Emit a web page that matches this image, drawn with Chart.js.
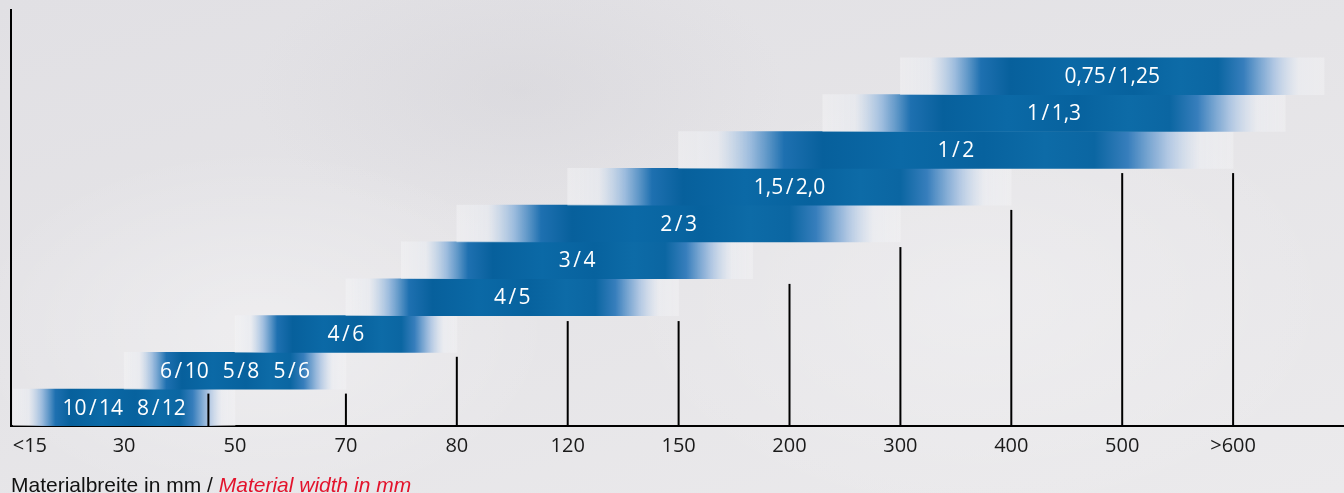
<!DOCTYPE html>
<html>
<head>
<meta charset="utf-8">
<script src="https://cdn.jsdelivr.net/npm/chart.js@4"></script>
<style>
  html, body { margin: 0; padding: 0; }
  body {
    width: 1344px; height: 493px; overflow: hidden; position: relative;
    background:
      radial-gradient(ellipse 420px 260px at 260px 330px, rgba(255,255,255,0.35), rgba(255,255,255,0) 70%),
      radial-gradient(ellipse 520px 320px at 980px 300px, rgba(255,255,255,0.25), rgba(255,255,255,0) 70%),
      radial-gradient(ellipse 380px 200px at 520px 90px, rgba(205,204,210,0.35), rgba(205,204,210,0) 70%),
      linear-gradient(165deg, #e1e0e4 0%, #e5e4e7 45%, #ebeaec 100%);
  }
  #wrap { position: absolute; left: 0; top: 0; width: 1344px; height: 493px; }
  #caption {
    position: absolute; left: 11px; top: 474px; margin: 0;
    font: 21px/21px "Liberation Sans", Arial, sans-serif; color: #111; white-space: nowrap;
  }
  #caption em { color: #e3132c; font-style: italic; }
</style>
</head>
<body>
<div id="wrap"><canvas id="c" width="1344" height="493"></canvas></div>
<p id="caption">Materialbreite in mm / <em>Material width in mm</em></p>
<script>
// Material width categories (x axis)
const widthLabels = ['<15', '30', '50', '70', '80', '120', '150', '200', '300', '400', '500', '>600'];
// Gauge labels, one per bar (bottom to top)
const gaugeLabels = ['10/14 8/12', '6/10 5/8 5/6', '4/6', '4/5', '3/4', '2/3', '1,5/2,0', '1/2', '1/1,3', '0,75/1,25'];
// Range of each bar along the width-category axis (category index units)
const rangeStart = [0, 1, 2, 3, 3.5, 4, 5, 6, 7.3, 8];
const rangeEnd   = [2, 3, 4, 6, 6.67, 8, 9, 11, 11.47, 11.82];
// Vertical marker lines: position on the width axis and height in rows
const markerAt     = [1.76, 3, 4, 5, 6, 7, 8, 9, 10, 11];
const markerHeight = [0.88, 0.88, 1.88, 2.85, 2.85, 3.86, 4.86, 5.87, 6.87, 6.87];

const barData = gaugeLabels.map((lab, i) => ({ x: [rangeStart[i], rangeEnd[i]], y: i + 0.5 }));

function barGradient(ctx) {
  const fallback = '#0a64a0';
  if (ctx.type !== 'data' || !ctx.raw) return fallback;
  const chart = ctx.chart;
  const xs = chart.scales && chart.scales.x;
  if (!xs) return fallback;
  const x0 = xs.getPixelForValue(ctx.raw.x[0]);
  const x1 = xs.getPixelForValue(ctx.raw.x[1]);
  if (!isFinite(x0) || !isFinite(x1) || x1 <= x0) return fallback;
  const g = chart.ctx.createLinearGradient(x0, 0, x1, 0);
  g.addColorStop(0.00, 'rgba(244,244,246,0.5)');
  g.addColorStop(0.07, 'rgba(232,235,241,0.65)');
  g.addColorStop(0.13, 'rgba(150,184,220,0.95)');
  g.addColorStop(0.19, 'rgba(30,112,176,1)');
  g.addColorStop(0.26, '#07609c');
  g.addColorStop(0.40, '#0b69a6');
  g.addColorStop(0.55, '#07629e');
  g.addColorStop(0.66, '#0d6ba7');
  g.addColorStop(0.75, '#0b66a2');
  g.addColorStop(0.81, 'rgba(55,126,188,1)');
  g.addColorStop(0.88, 'rgba(170,195,225,0.95)');
  g.addColorStop(0.94, 'rgba(236,238,243,0.6)');
  g.addColorStop(1.00, 'rgba(244,244,246,0.45)');
  return g;
}

const markerDatasets = markerAt.map((x, i) => ({
  type: 'line',
  indexAxis: 'x',
  data: [{ x: x, y: 0 }, { x: x, y: markerHeight[i] }],
  borderColor: '#000',
  borderWidth: 2,
  borderCapStyle: 'butt',
  pointRadius: 0,
  fill: false,
  order: 0
}));

// Draws a gauge label: words separated by a gap, slashes given extra room
function labelWidth(ctx, text, slashPad, wordGap) {
  const words = text.split(' ');
  let w = 0;
  words.forEach((word, wi) => {
    for (const ch of word) w += ctx.measureText(ch).width + (ch === '/' ? 2 * slashPad : 0);
    if (wi < words.length - 1) w += wordGap;
  });
  return w;
}
function drawLabel(ctx, text, cx, cy, slashPad, wordGap) {
  const words = text.split(' ');
  let x = cx - labelWidth(ctx, text, slashPad, wordGap) / 2;
  words.forEach((word, wi) => {
    for (const ch of word) {
      if (ch === '/') x += slashPad;
      ctx.fillText(ch, x, cy);
      x += ctx.measureText(ch).width;
      if (ch === '/') x += slashPad;
    }
    if (wi < words.length - 1) x += wordGap;
  });
}

const barLabelPlugin = {
  id: 'barLabels',
  afterDatasetsDraw(chart) {
    const meta = chart.getDatasetMeta(0);
    const ctx = chart.ctx;
    ctx.save();
    ctx.fillStyle = '#ffffff';
    ctx.font = '21px "Open Sans", "Noto Sans", sans-serif';
    ctx.textAlign = 'left';
    ctx.textBaseline = 'middle';
    meta.data.forEach((el, i) => {
      const cx = (el.x + el.base) / 2;
      drawLabel(ctx, gaugeLabels[i], cx, el.y + 1, 2.5, 14);
    });
    ctx.restore();
  }
};

new Chart(document.getElementById('c'), {
  type: 'bar',
  data: {
    datasets: [{
      type: 'bar',
      indexAxis: 'y',
      data: barData,
      backgroundColor: barGradient,
      borderWidth: 0,
      barPercentage: 1,
      categoryPercentage: 1,
      order: 1
    }, ...markerDatasets]
  },
  options: {
    responsive: false,
    animation: false,
    indexAxis: 'y',
    layout: { padding: { left: 11, right: 0, top: 10, bottom: 0 } },
    plugins: { legend: { display: false }, tooltip: { enabled: false } },
    scales: {
      x: {
        type: 'linear',
        min: -0.02,
        max: 12.0,
        offset: false,
        grid: { display: false },
        border: { display: true, color: '#000', width: 2 },
        afterFit(scale) { scale.height = 67; },
        afterBuildTicks(scale) {
          scale.ticks = widthLabels.map((_, i) => ({ value: i === 0 ? 0.15 : i }));
        },
        ticks: {
          autoSkip: false,
          maxRotation: 0,
          padding: 0,
          color: '#1a1a1a',
          font: { family: '"Open Sans", "Noto Sans", sans-serif', size: 20, lineHeight: 1.2 },
          callback(value, index) { return widthLabels[index]; }
        }
      },
      y: {
        type: 'linear',
        min: 0,
        max: 11.3,
        offset: false,
        grid: { display: false },
        border: { display: true, color: '#000', width: 2 },
        ticks: { display: false },
        afterFit(scale) { scale.width = 0; }
      }
    }
  },
  plugins: [barLabelPlugin]
});
</script>
</body>
</html>
